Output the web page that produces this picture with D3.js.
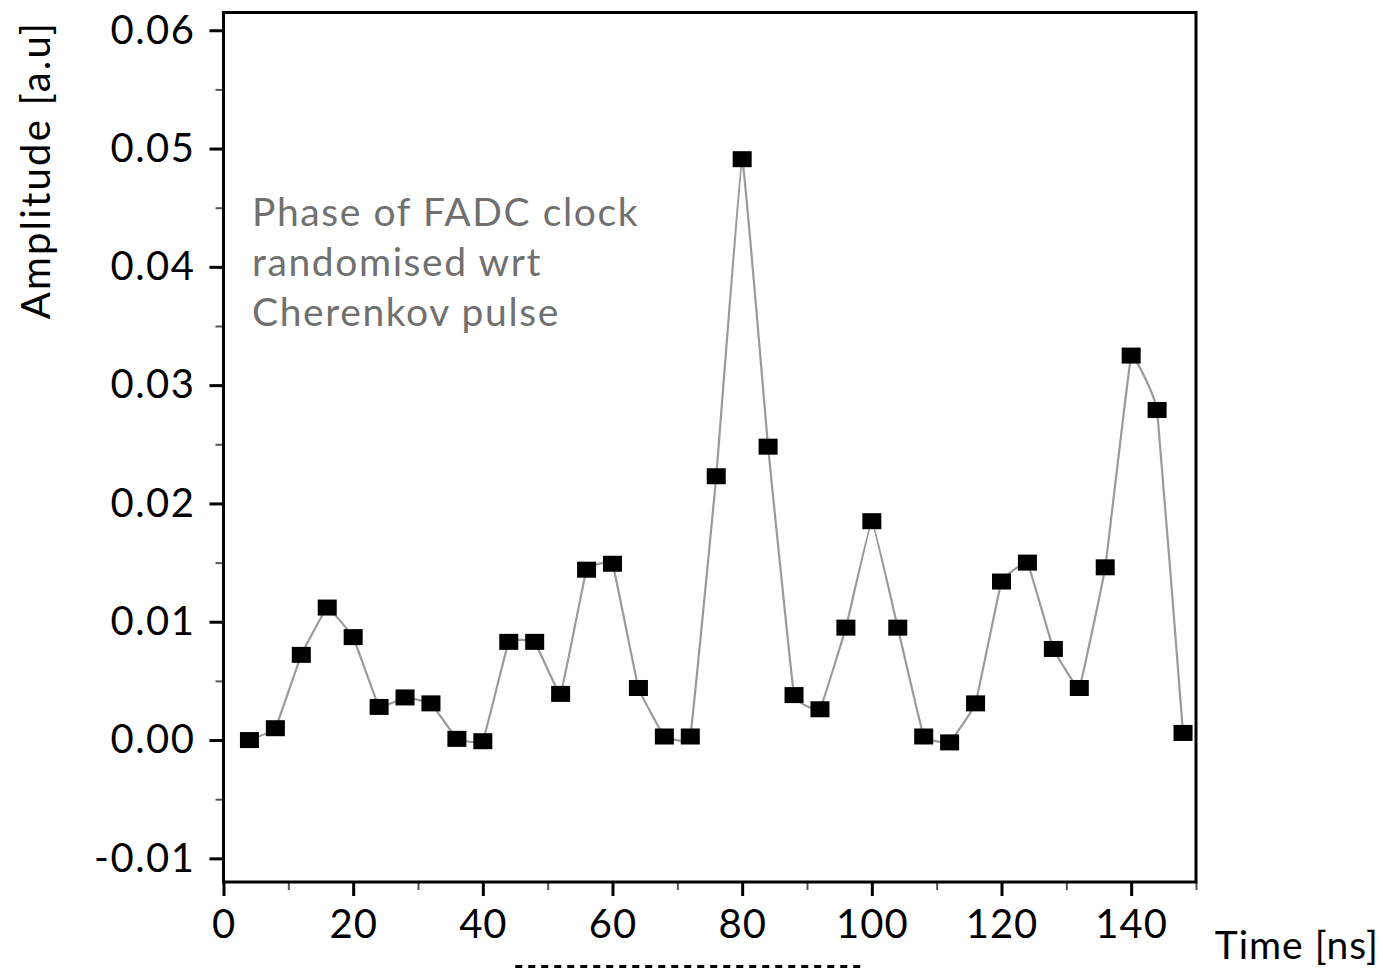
<!DOCTYPE html>
<html>
<head>
<meta charset="utf-8">
<script src="https://cdn.jsdelivr.net/npm/d3@7/dist/d3.min.js"></script>
<style>
  html, body { margin: 0; padding: 0; background: #fff; }
  svg { display: block; }
  text { font-family: Lato, "Open Sans", sans-serif; }
</style>
</head>
<body>
<svg id="chart" width="1383" height="970"></svg>
<script>
// Sampled pulse: one sample every 4 ns
const timeNs = [4, 8, 12, 16, 20, 24, 28, 32, 36, 40, 44, 48, 52, 56, 60, 64, 68, 72, 76,
                80, 84, 88, 92, 96, 100, 104, 108, 112, 116, 120, 124, 128, 132, 136, 140, 144, 148];
const amplitude = [0.0000, 0.0010, 0.0072, 0.0112, 0.0087, 0.0028, 0.0036, 0.0031, 0.0001, -0.0001,
                   0.0083, 0.0083, 0.0039, 0.0144, 0.0149, 0.0044, 0.0003, 0.0003, 0.0223,
                   0.0491, 0.0248, 0.0038, 0.0026, 0.0095, 0.0185, 0.0095, 0.0003, -0.0002,
                   0.0031, 0.0134, 0.0150, 0.0077, 0.0044, 0.0146, 0.0325, 0.0279, 0.0006];

const xMajorTicks = [0, 20, 40, 60, 80, 100, 120, 140];
const xMinorTicks = [10, 30, 50, 70, 90, 110, 130, 150];
const yMajorTicks = [-0.01, 0.00, 0.01, 0.02, 0.03, 0.04, 0.05, 0.06];
const yMinorTicks = [-0.005, 0.005, 0.015, 0.025, 0.035, 0.045, 0.055];

const noteLines = ["Phase of FADC clock", "randomised wrt", "Cherenkov pulse"];
const xTitle = "Time [ns]";
const yTitle = "Amplitude [a.u]";

const svg = d3.select("#chart");
const plot = { left: 223.5, right: 1196, top: 12.5, bottom: 882 };

const x = d3.scaleLinear().domain([0, 150]).range([plot.left, plot.right]);
const y = d3.scaleLinear().domain([-0.012, 0.0615]).range([plot.bottom, plot.top]);

const fmt = d3.formatLocale({ decimal: ".", thousands: ",", grouping: [3], currency: ["", ""], minus: "-" }).format(".2f");

// minor ticks (no labels)
svg.append("g")
  .attr("transform", `translate(0,${plot.bottom})`)
  .call(d3.axisBottom(x).tickValues(xMinorTicks).tickSize(8).tickFormat(""))
  .call(g => g.select(".domain").remove())
  .call(g => g.selectAll("line").attr("stroke", "#555").attr("stroke-width", 2));

svg.append("g")
  .attr("transform", `translate(${plot.left},0)`)
  .call(d3.axisLeft(y).tickValues(yMinorTicks).tickSize(8).tickFormat(""))
  .call(g => g.select(".domain").remove())
  .call(g => g.selectAll("line").attr("stroke", "#555").attr("stroke-width", 2));

// major ticks with labels
svg.append("g")
  .attr("transform", `translate(0,${plot.bottom})`)
  .call(d3.axisBottom(x).tickValues(xMajorTicks).tickSize(14).tickPadding(14).tickFormat(d3.format("d")))
  .call(g => g.select(".domain").remove())
  .call(g => g.selectAll("line").attr("stroke", "#000").attr("stroke-width", 3))
  .call(g => g.selectAll("text").attr("fill", "#000").attr("font-size", 40)
    .attr("font-family", "Lato, sans-serif").attr("letter-spacing", 1));

svg.append("g")
  .attr("transform", `translate(${plot.left},0)`)
  .call(d3.axisLeft(y).tickValues(yMajorTicks).tickSize(14).tickPadding(14).tickFormat(fmt))
  .call(g => g.select(".domain").remove())
  .call(g => g.selectAll("line").attr("stroke", "#000").attr("stroke-width", 3))
  .call(g => g.selectAll("text").attr("fill", "#000").attr("font-size", 40)
    .attr("font-family", "Lato, sans-serif").attr("letter-spacing", 1.5));

// frame
svg.append("rect")
  .attr("x", plot.left).attr("y", plot.top)
  .attr("width", plot.right - plot.left).attr("height", plot.bottom - plot.top)
  .attr("fill", "none").attr("stroke", "#000").attr("stroke-width", 3);

// pulse trace
const pts = timeNs.map((t, i) => [t, amplitude[i]]);
svg.append("path")
  .datum(pts)
  .attr("fill", "none")
  .attr("stroke", "#9a9a9a")
  .attr("stroke-width", 2.2)
  .attr("d", d3.line().x(d => x(d[0])).y(d => y(d[1])).curve(d3.curveCardinal.tension(0.8)));

svg.append("g").selectAll("rect")
  .data(pts)
  .join("rect")
  .attr("x", d => x(d[0]) - 9.5)
  .attr("y", d => y(d[1]) - 8)
  .attr("width", 19).attr("height", 16)
  .attr("fill", "#000");

// annotation
svg.append("text")
  .attr("x", 252).attr("y", 226)
  .attr("fill", "#707070").attr("font-size", 39).attr("letter-spacing", 1.6)
  .selectAll("tspan").data(noteLines).join("tspan")
  .attr("x", 252).attr("dy", (d, i) => i === 0 ? 0 : 50)
  .text(d => d);

// axis titles
svg.append("text")
  .attr("x", 1379).attr("y", 959)
  .attr("text-anchor", "end")
  .attr("font-size", 39).attr("letter-spacing", 1).attr("fill", "#000")
  .text(xTitle);

svg.append("text")
  .attr("transform", "translate(50,170) rotate(-90)")
  .attr("text-anchor", "middle")
  .attr("font-size", 40).attr("letter-spacing", 2.2).attr("fill", "#000")
  .text(yTitle);

// dashed rule under the time axis
svg.append("line")
  .attr("x1", x(45)).attr("x2", x(98.5))
  .attr("y1", 966.5).attr("y2", 966.5)
  .attr("stroke", "#000").attr("stroke-width", 3)
  .attr("stroke-dasharray", "7,6");
</script>
</body>
</html>
